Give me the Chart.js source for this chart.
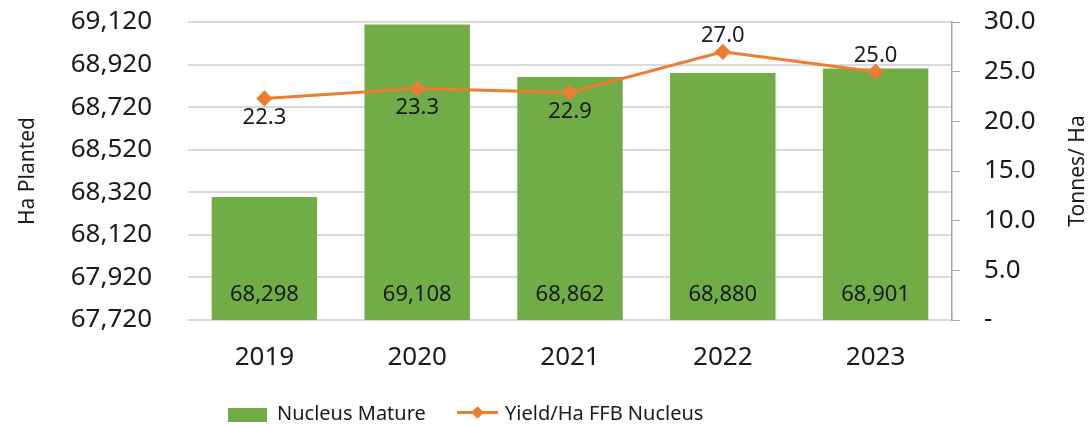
<!DOCTYPE html>
<html>
<head>
<meta charset="utf-8">
<script src="https://cdn.jsdelivr.net/npm/chart.js@4"></script>
<style>
  html, body { margin: 0; padding: 0; background: #fff; }
  #wrap { position: relative; width: 1091px; height: 428px; }
  #legend { position: absolute; left: 0; top: 400px; width: 1091px; height: 26px;
    font: 20px "Noto Sans", sans-serif; color: #1a1a1a; }
  .item { position: absolute; top: 0; line-height: 26px; white-space: nowrap; }
  .box { position: absolute; top: 8px; width: 39px; height: 14px; background: #70AD47; }
  .ln { position: absolute; top: 11px; width: 41px; height: 3px; background: #ED7D31; }
  .dm { position: absolute; top: -3px; left: 16px; width: 9px; height: 9px; background: #ED7D31; transform: rotate(45deg); }
</style>
</head>
<body>
<div id="wrap">
  <canvas id="chart" width="1091" height="428"></canvas>
  <div id="legend">
    <div class="item" style="left:228px"><span class="box" style="left:0"></span><span style="position:absolute;left:49px">Nucleus Mature</span></div>
    <div class="item" style="left:457px"><span class="ln" style="left:0"><span class="dm"></span></span><span style="position:absolute;left:48px">Yield/Ha FFB Nucleus</span></div>
  </div>
</div>
<script>
const years = ['2019', '2020', '2021', '2022', '2023'];
const nucleusMature = [68298, 69108, 68862, 68880, 68901];
const yieldPerHa = [22.3, 23.3, 22.9, 27.0, 25.0];
const yieldLabelAbove = [false, false, false, true, true];

const FONT = '"Noto Sans", sans-serif';
const TXT = '#1a1a1a';

// draw values: bar totals inside the base, yields above/below the markers, axis titles
const valueLabels = {
  id: 'valueLabels',
  afterDatasetsDraw(chart) {
    const ctx = chart.ctx;
    const area = chart.chartArea;
    ctx.save();
    ctx.fillStyle = TXT;
    ctx.textAlign = 'center';
    ctx.textBaseline = 'middle';
    ctx.font = '22px ' + FONT;
    const bars = chart.getDatasetMeta(0).data;
    bars.forEach((b, i) => {
      ctx.fillText(nucleusMature[i].toLocaleString('en-US'), b.x, area.bottom - 25);
    });
    const pts = chart.getDatasetMeta(1).data;
    pts.forEach((p, i) => {
      const dy = yieldLabelAbove[i] ? -16 : 19;
      ctx.fillText(yieldPerHa[i].toFixed(1), p.x, p.y + dy);
    });
    // axis titles, both read bottom-to-top
    const midY = (area.top + area.bottom) / 2;
    ctx.font = '21px ' + FONT;
    [['Ha Planted', 28], ['Tonnes/ Ha', 1078]].forEach(([t, x]) => {
      ctx.save();
      ctx.translate(x, midY);
      ctx.rotate(-Math.PI / 2);
      ctx.fillText(t, 0, 0);
      ctx.restore();
    });
    ctx.restore();
  }
};

// tick padding also pads the plot top, so reset it after the fit
function fixVertical(width) {
  return s => { s.width = width; s.paddingTop = 12; s.paddingBottom = 12; };
}

new Chart(document.getElementById('chart'), {
  type: 'bar',
  data: {
    labels: years,
    datasets: [{
      type: 'bar',
      label: 'Nucleus Mature',
      data: nucleusMature,
      backgroundColor: '#70AD47',
      yAxisID: 'y',
      categoryPercentage: 0.69,
      barPercentage: 1,
      order: 2
    }, {
      type: 'line',
      label: 'Yield/Ha FFB Nucleus',
      data: yieldPerHa,
      borderColor: '#ED7D31',
      backgroundColor: '#ED7D31',
      borderWidth: 3,
      pointStyle: 'rectRot',
      pointRadius: 6,
      pointHoverRadius: 6,
      yAxisID: 'y1',
      tension: 0,
      order: 1
    }]
  },
  options: {
    responsive: false,
    animation: false,
    layout: { padding: { top: 22, left: 0, right: 0, bottom: 0 } },
    plugins: { legend: { display: false }, tooltip: { enabled: false } },
    scales: {
      x: {
        grid: { display: false },
        border: { color: '#d9d9d9', width: 2 },
        ticks: { color: TXT, font: { family: FONT, size: 26 }, padding: 14 },
        afterFit(s) { s.height = 108; }
      },
      y: {
        position: 'left',
        min: 67720,
        max: 69120,
        ticks: {
          stepSize: 200,
          color: TXT,
          font: { family: FONT, size: 26 },
          padding: 36,
          callback: v => v.toLocaleString('en-US')
        },
        grid: { color: '#d9d9d9', lineWidth: 2, drawTicks: false },
        border: { display: false },
        afterFit: fixVertical(188)
      },
      y1: {
        position: 'right',
        min: 0,
        max: 30,
        ticks: {
          stepSize: 5,
          color: TXT,
          font: { family: FONT, size: 26 },
          padding: 24,
          callback: v => v === 0 ? '-' : v.toFixed(1)
        },
        grid: { drawOnChartArea: false, color: '#a6a6a6', tickLength: 8 },
        border: { color: '#a6a6a6', width: 1.5 },
        afterFit: fixVertical(139)
      }
    }
  },
  plugins: [valueLabels]
});
</script>
</body>
</html>
